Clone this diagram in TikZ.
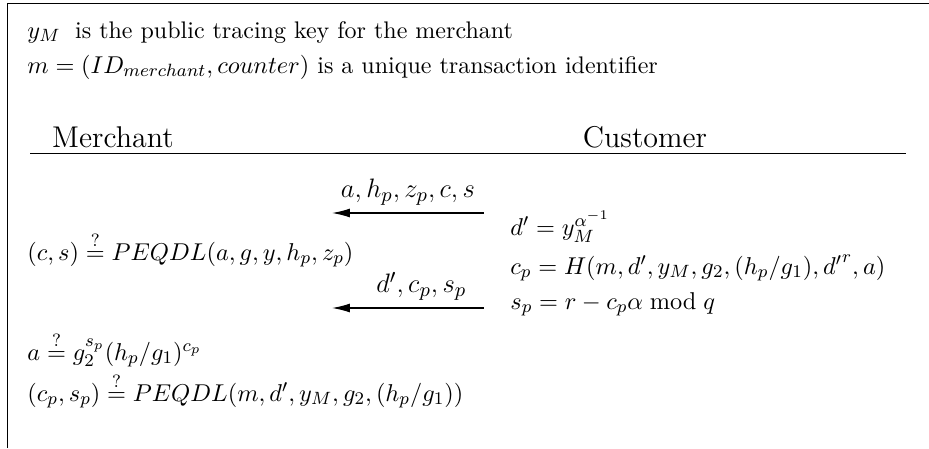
\documentclass[tikz,border=0pt]{standalone}
\usepackage{amsmath}
\usetikzlibrary{arrows.meta}
\begin{document}
\begin{tikzpicture}[x=0.45pt,y=-0.45pt,>={Latex[length=8pt,width=4pt]},
  font=\fontsize{11.4}{14}\selectfont,
  txt/.style={anchor=base west,inner sep=0pt},
  head/.style={txt,font=\fontsize{10.8}{13}\selectfont},
  party/.style={anchor=base,inner sep=0pt,font=\fontsize{13.5}{16}\selectfont},
  msg/.style={<-,line width=0.6pt},
  lbl/.style={midway,anchor=south,inner sep=0pt,yshift=3pt,font=\fontsize{13}{15}\selectfont}]
\useasboundingbox (0,0) rectangle (929,448);
% frame
\draw (7,448) -- (7,3) -- (929,3);
% header
\node[head] (key) at (27,38) {$y_M$\; is the public tracing key for the merchant};
\node[head] (ident) at (27,73) {$m=(ID_{merchant},counter)$ is a unique transaction identifier};
\node[party] (merchant) at (113,147) {Merchant};
\node[party] (customer) at (645,147) {Customer};
\coordinate (rl) at (30,153);
\coordinate (rr) at (906,153);
\draw (rl) -- (rr);
% first message
\coordinate (m1) at (332,213);
\coordinate (c1) at (484,213);
\draw[msg] (m1) -- (c1) node[lbl] {$a,h_p,z_p,c,s$};
\node[txt] (dprime) at (510,235) {$d'=y_M^{\alpha^{-1}}$};
\node[txt] (check1) at (27,260) {$(c,s)\stackrel{?}{=}PEQDL(a,g,y,h_p,z_p)$};
\node[txt] (cp) at (510,274) {$c_p=H(m,d',y_M,g_2,(h_p/g_1),{d'}^r,a)$};
% second message
\coordinate (m2) at (332,308);
\coordinate (c2) at (484,308);
\draw[msg] (m2) -- (c2) node[lbl,xshift=6pt] {$d',c_p,s_p$};
\node[txt] (sp) at (510,309) {$s_p=r-c_p\alpha \bmod q$};
\node[txt] (check2) at (27,360) {$a\stackrel{?}{=}g_2^{s_p}(h_p/g_1)^{c_p}$};
\node[txt] (check3) at (27,401) {$(c_p,s_p)\stackrel{?}{=}PEQDL(m,d',y_M,g_2,(h_p/g_1))$};
\end{tikzpicture}
\end{document}
